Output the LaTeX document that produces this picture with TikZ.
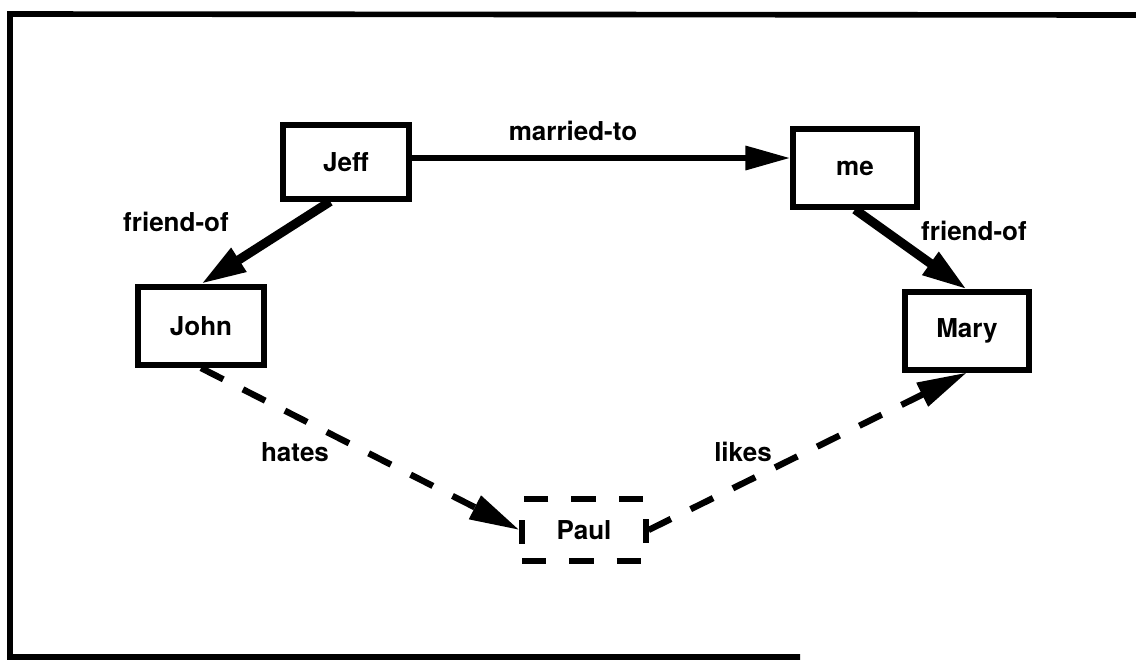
\documentclass[tikz,border=0pt]{standalone}
\usepackage{fontspec}
\setmainfont{TeX Gyre Heros}
\usetikzlibrary{arrows.meta,calc}
\begin{document}
\begin{tikzpicture}[x=0.01cm,y=-0.01cm,
  every node/.style={font=\fontsize{7.4}{9}\selectfont\bfseries, inner sep=0pt},
  entity/.style={draw, line width=1.7pt},
  hypo/.style={entity, dash pattern=on 0.24cm off 0.23cm},
  rel/.style={line width=1.8pt, -{Triangle[length=4.5mm,width=2.3mm]}},
  relthick/.style={line width=2.6pt, -{Triangle[length=4.5mm,width=2.6mm]}},
  reldash/.style={line width=1.8pt, dash pattern=on 0.25cm off 0.22cm,
                  -{Triangle[length=5mm,width=2.5mm]}},
  lbl/.style={}]
\useasboundingbox (0,0) rectangle (1136,660);

% open frame
\draw[line width=1.6pt] (800,657) -- (10,657) -- (10,14) -- (1136,15);

% entities
\node[entity, minimum width=1.26cm, minimum height=0.73cm] (Jeff) at (346,162) {Jeff};
\node[entity, minimum width=1.23cm, minimum height=0.77cm] (me)   at (855,168) {me};
\node[entity, minimum width=1.25cm, minimum height=0.78cm] (John) at (201,326) {John};
\node[entity, minimum width=1.24cm, minimum height=0.77cm] (Mary) at (967,331) {Mary};
\node[hypo,   minimum width=1.23cm, minimum height=0.62cm] (Paul) at (584,530) {Paul};

% relations
\coordinate (mt) at ($(Jeff.east)+(0,-4)$);
\draw[rel] (mt) -- (mt -| me.west);
\draw[relthick] ($(Jeff.south west)!0.38!(Jeff.south east)$) -- (John.north);
\draw[relthick] (me.south) -- (Mary.north);
\draw[reldash] (John.south) -- (Paul.west);
\draw[reldash] (Paul.east) -- (Mary.south);

% relation labels
\node[lbl] (lmarried) at (573,131) {married-to};
\node[lbl] (lfriendL) at (176,222) {friend-of};
\node[lbl] (lfriendR) at (974,231) {friend-of};
\node[lbl] (lhates)   at (295,452) {hates};
\node[lbl] (llikes)   at (743,452) {likes};
\end{tikzpicture}
\end{document}
